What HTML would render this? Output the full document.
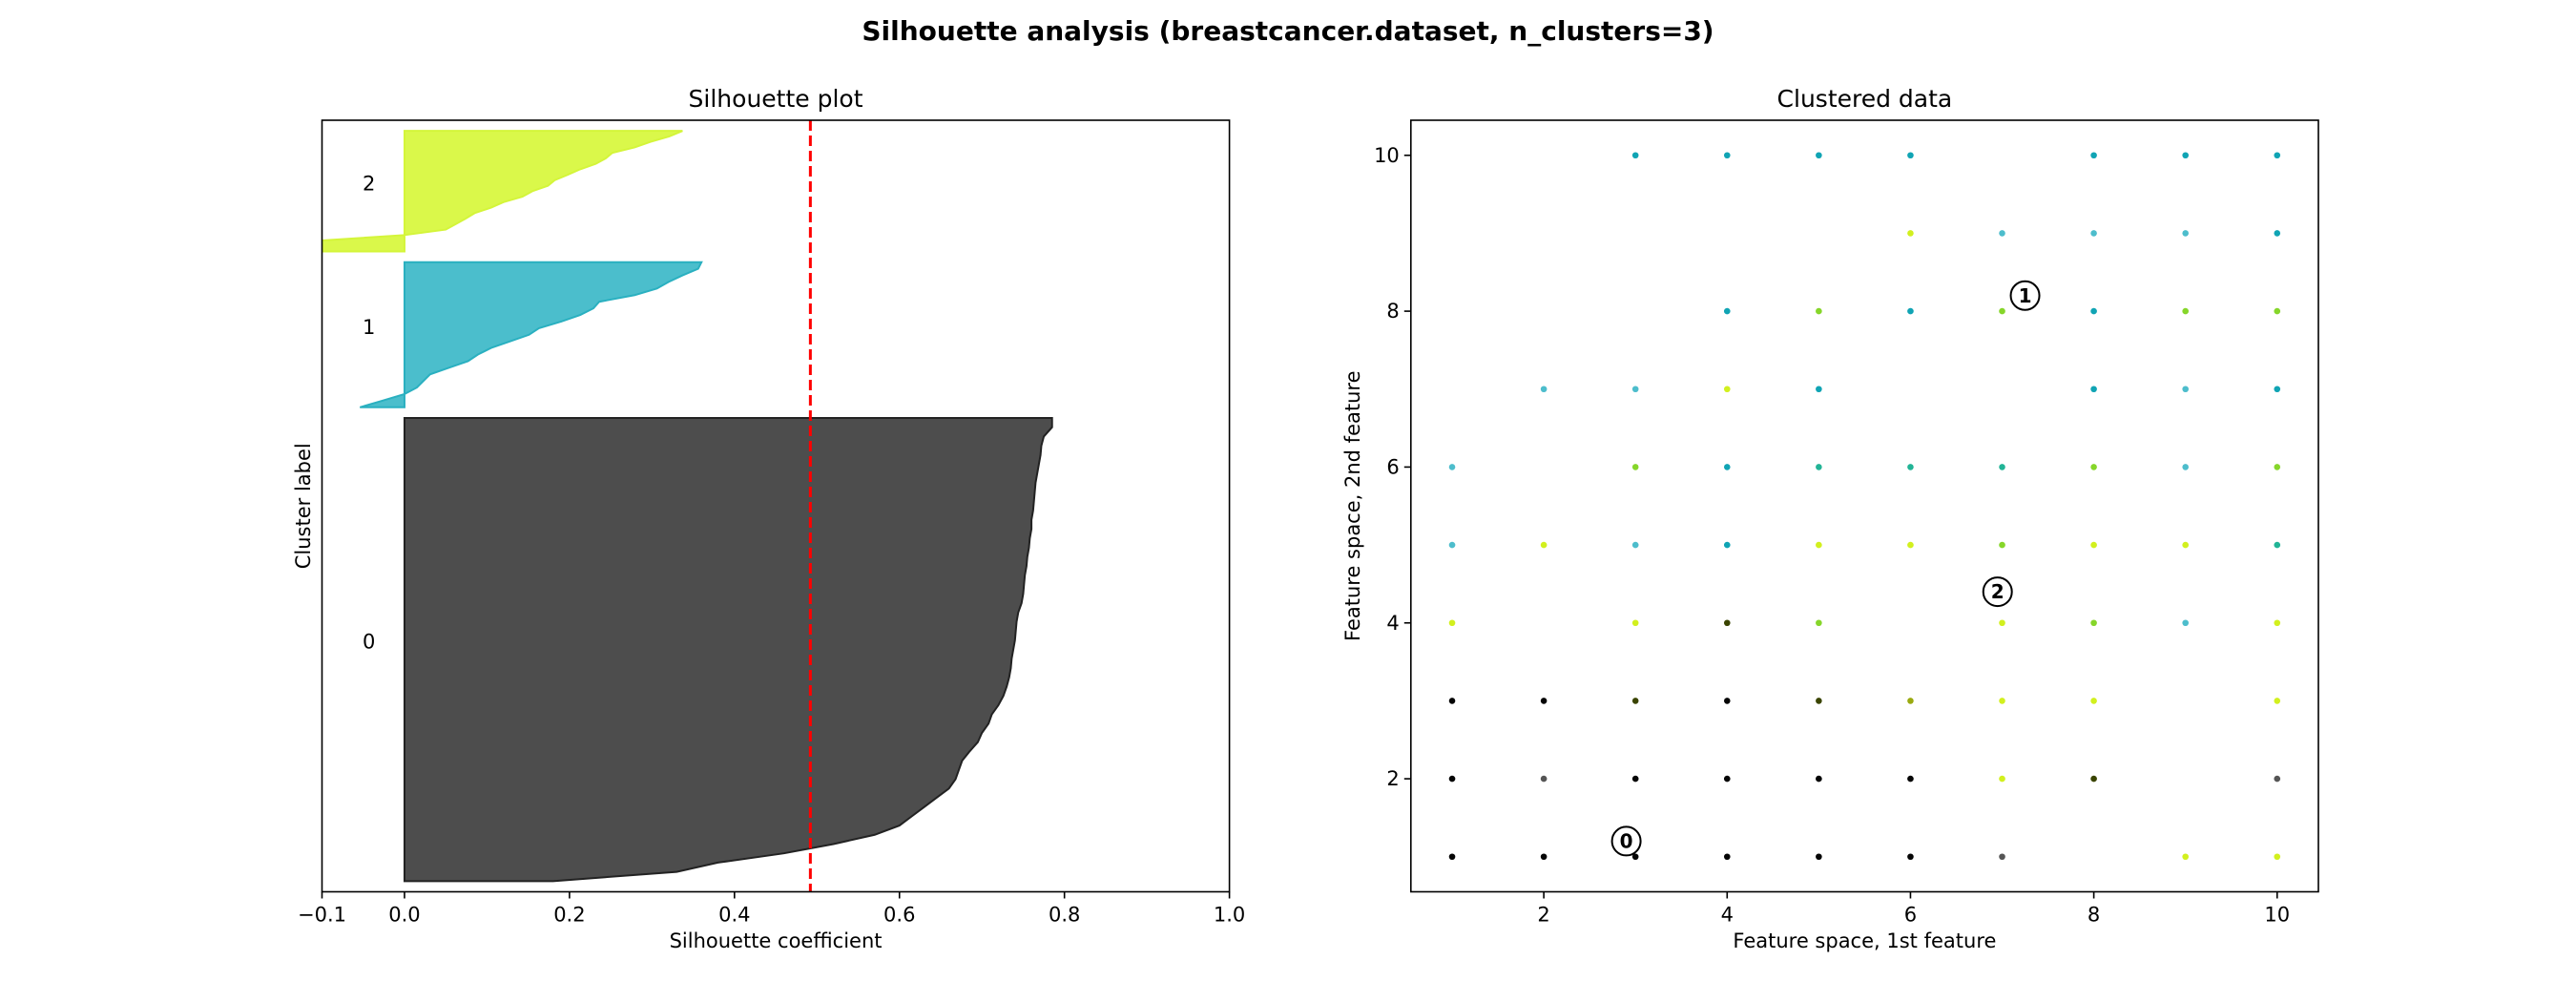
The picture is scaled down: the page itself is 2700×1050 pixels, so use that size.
<!DOCTYPE html>
<html><head><meta charset="utf-8"><style>
body{margin:0;background:#fff}
svg{display:block;font-family:"DejaVu Sans","Liberation Sans",sans-serif}
</style></head><body>
<svg id="fig" width="2700" height="1050" viewBox="0 0 2700 1050" xmlns="http://www.w3.org/2000/svg">
<rect width="2700" height="1050" fill="#fff"/>
<text x="1350" y="42" text-anchor="middle" font-size="28" font-weight="bold">Silhouette analysis (breastcancer.dataset, n_clusters=3)</text>
<g id="left"></g>
<g id="right"></g>
</svg>
<script>
// ---- silhouette data ----
const clusterLabels = ["0", "1", "2"];
const clusterSizes = [434, 136, 113];
const sil0 = [0.18, 0.33, 0.38, 0.46, 0.52, 0.57, 0.60, 0.615, 0.63, 0.645, 0.66, 0.668, 0.672, 0.676, 0.685, 0.695, 0.70, 0.708, 0.712, 0.72, 0.726, 0.73, 0.733, 0.735, 0.736, 0.738, 0.74, 0.741, 0.742, 0.744, 0.748, 0.75, 0.751, 0.752, 0.754, 0.755, 0.757, 0.758, 0.76, 0.76, 0.762, 0.763, 0.764, 0.765, 0.767, 0.769, 0.771, 0.772, 0.775, 0.785, 0.785];
const sil1 = [-0.054, -0.027, 0, 0.015, 0.023, 0.031, 0.054, 0.077, 0.089, 0.105, 0.128, 0.151, 0.163, 0.19, 0.213, 0.229, 0.236, 0.279, 0.306, 0.32, 0.337, 0.356, 0.36];
const sil2 = [-0.12, -0.12, -0.1, 0, 0.05, 0.062, 0.074, 0.085, 0.105, 0.12, 0.143, 0.155, 0.174, 0.182, 0.198, 0.213, 0.232, 0.244, 0.252, 0.279, 0.298, 0.321, 0.337];
const silAvg = 0.492;
const silXTicks = [-0.1, 0, 0.2, 0.4, 0.6, 0.8, 1.0];
const silXTickLabels = ["\u22120.1", "0.0", "0.2", "0.4", "0.6", "0.8", "1.0"];
// ---- scatter data ----
const ptX = [3,4,5,6,8,9,10, 6,7,8,9,10, 4,5,6,7,8,9,10, 2,3,4,5,8,9,10, 1,3,4,5,6,7,8,9,10, 1,2,3,4,5,6,7,8,9,10, 1,3,4,5,7,8,9,10, 1,2,3,4,5,6,7,8,10, 1,2,3,4,5,6,7,8,10, 1,2,3,4,5,6,7,9,10];
const ptY = [10,10,10,10,10,10,10, 9,9,9,9,9, 8,8,8,8,8,8,8, 7,7,7,7,7,7,7, 6,6,6,6,6,6,6,6,6, 5,5,5,5,5,5,5,5,5,5, 4,4,4,4,4,4,4,4, 3,3,3,3,3,3,3,3,3, 2,2,2,2,2,2,2,2,2, 1,1,1,1,1,1,1,1,1];
const ptCls = ["c","c","c","c","c","c","c", "y","l","l","l","c", "c","g","c","g","c","g","g", "l","l","y","c","c","l","c", "l","g","c","t","t","t","g","l","g", "l","y","l","c","y","y","g","y","y","t", "y","y","o","g","y","g","l","y", "k","k","o","k","o","v","y","y","y", "k","r","k","k","k","k","y","o","r", "k","k","k","k","k","k","r","y","y"];
const centerX = [2.9, 7.25, 6.95];
const centerY = [1.2, 8.2, 4.4];
const sctTicks = [2, 4, 6, 8, 10];

const NS = "http://www.w3.org/2000/svg";
function mk(parent, tag, attrs, txt) {
  const e = document.createElementNS(NS, tag);
  for (const k in attrs) e.setAttribute(k, attrs[k]);
  if (txt !== undefined) e.textContent = txt;
  parent.appendChild(e);
  return e;
}
const FS = 21;

// ===== Left plot =====
const L = document.getElementById('left');
const lx0 = 337.5, lx1 = 1288.6, ly0 = 126, ly1 = 934.5;
const xmin = -0.1, xmax = 1.0;
const total = clusterSizes.reduce((a, b) => a + b, 0);
const ymaxS = total + (clusterSizes.length + 1) * 10;
const sx = v => lx0 + (v - xmin) / (xmax - xmin) * (lx1 - lx0);
const sy = v => ly1 - v / ymaxS * (ly1 - ly0);
mk(L, 'defs', {}).innerHTML = '<clipPath id="lclip"><rect x="' + lx0 + '" y="' + ly0 + '" width="' + (lx1 - lx0) + '" height="' + (ly1 - ly0) + '"/></clipPath>';
const sils = [sil0, sil1, sil2];
const fills = ["#4d4d4d", "#4bbecc", "#daf84a"];
const strokes = ["#222", "#2ab0c0", "#d4f53a"];
let ylow = 10;
sils.forEach((vals, ci) => {
  const n = clusterSizes[ci];
  const step = n / (vals.length - 1);
  let d = 'M' + sx(0) + ',' + sy(ylow);
  vals.forEach((v, i) => {
    d += ' L' + sx(v) + ',' + sy(ylow + i * step);
  });
  d += ' L' + sx(0) + ',' + sy(ylow + n) + ' Z';
  const p = mk(L, 'path', {d: d, fill: fills[ci], stroke: strokes[ci], 'stroke-width': 2, 'clip-path': 'url(#lclip)'});
  
  
  const t = mk(L, 'text', {x: sx(-0.05) + 6, y: sy(ylow + n / 2) - 1, 'text-anchor': 'middle', 'font-size': FS}, clusterLabels[ci]);
  
  
  ylow += n + 10;
});
const avg = mk(L, 'line', {x1: sx(silAvg), x2: sx(silAvg), y1: ly0, y2: ly1, stroke: '#f00', 'stroke-width': 3, 'stroke-dasharray': '11,5'});


const lframe = mk(L, 'rect', {x: lx0, y: ly0, width: lx1 - lx0, height: ly1 - ly0, fill: 'none', stroke: '#000', 'stroke-width': 1.6});


silXTicks.forEach((v, i) => {
  mk(L, 'line', {x1: sx(v), x2: sx(v), y1: ly1, y2: ly1 + 7, stroke: '#000', 'stroke-width': 1.6});
  const t = mk(L, 'text', {x: sx(v), y: ly1 + 31, 'text-anchor': 'middle', 'font-size': FS}, silXTickLabels[i]);
  
  
});
const lt = mk(L, 'text', {x: (lx0 + lx1) / 2, y: 112, 'text-anchor': 'middle', 'font-size': 25}, 'Silhouette plot');


const lxl = mk(L, 'text', {x: (lx0 + lx1) / 2, y: 993, 'text-anchor': 'middle', 'font-size': FS}, 'Silhouette coefficient');


const lyl = mk(L, 'text', {x: 0, y: 0, 'text-anchor': 'middle', 'font-size': FS, transform: 'translate(325,' + ((ly0 + ly1) / 2) + ') rotate(-90)'}, 'Cluster label');



// ===== Right plot =====
const R = document.getElementById('right');
const rx0 = 1478.8, rx1 = 2430, ry0 = 126, ry1 = 934.5;
const dmin = 0.55, dmax = 10.45;
const px = v => rx0 + (v - dmin) / (dmax - dmin) * (rx1 - rx0);
const py = v => ry1 - (v - dmin) / (dmax - dmin) * (ry1 - ry0);
const colorMap = {c: "#10a4b4", l: "#4dbdcc", y: "#d2f01e", g: "#86d62a", t: "#22b496", o: "#3a4400", k: "#050505", r: "#555555", v: "#9aaa10"};
ptX.forEach((x, i) => {
  const c = mk(R, 'circle', {cx: px(x), cy: py(ptY[i]), r: 3.3, fill: colorMap[ptCls[i]]});
  
  
});
centerX.forEach((x, i) => {
  const g = mk(R, 'g', {});
  
  
  mk(g, 'circle', {cx: px(x), cy: py(centerY[i]), r: 15, fill: '#fff', stroke: '#000', 'stroke-width': 2});
  mk(g, 'text', {x: px(x), y: py(centerY[i]) + 7, 'text-anchor': 'middle', 'font-size': 20, 'font-weight': 'bold'}, String(i));
});
const rframe = mk(R, 'rect', {x: rx0, y: ry0, width: rx1 - rx0, height: ry1 - ry0, fill: 'none', stroke: '#000', 'stroke-width': 1.6});


sctTicks.forEach(v => {
  mk(R, 'line', {x1: px(v), x2: px(v), y1: ry1, y2: ry1 + 7, stroke: '#000', 'stroke-width': 1.6});
  const t = mk(R, 'text', {x: px(v), y: ry1 + 31, 'text-anchor': 'middle', 'font-size': FS}, String(v));
  
  
  mk(R, 'line', {x1: rx0 - 7, x2: rx0, y1: py(v), y2: py(v), stroke: '#000', 'stroke-width': 1.6});
  const u = mk(R, 'text', {x: rx0 - 12, y: py(v) + 7, 'text-anchor': 'end', 'font-size': FS}, String(v));
  
  
});
const rt = mk(R, 'text', {x: (rx0 + rx1) / 2, y: 112, 'text-anchor': 'middle', 'font-size': 25}, 'Clustered data');


const rxl = mk(R, 'text', {x: (rx0 + rx1) / 2, y: 993, 'text-anchor': 'middle', 'font-size': FS}, 'Feature space, 1st feature');


const ryl = mk(R, 'text', {x: 0, y: 0, 'text-anchor': 'middle', 'font-size': FS, transform: 'translate(1425,' + ((ry0 + ry1) / 2) + ') rotate(-90)'}, 'Feature space, 2nd feature');


</script>
</body></html>
